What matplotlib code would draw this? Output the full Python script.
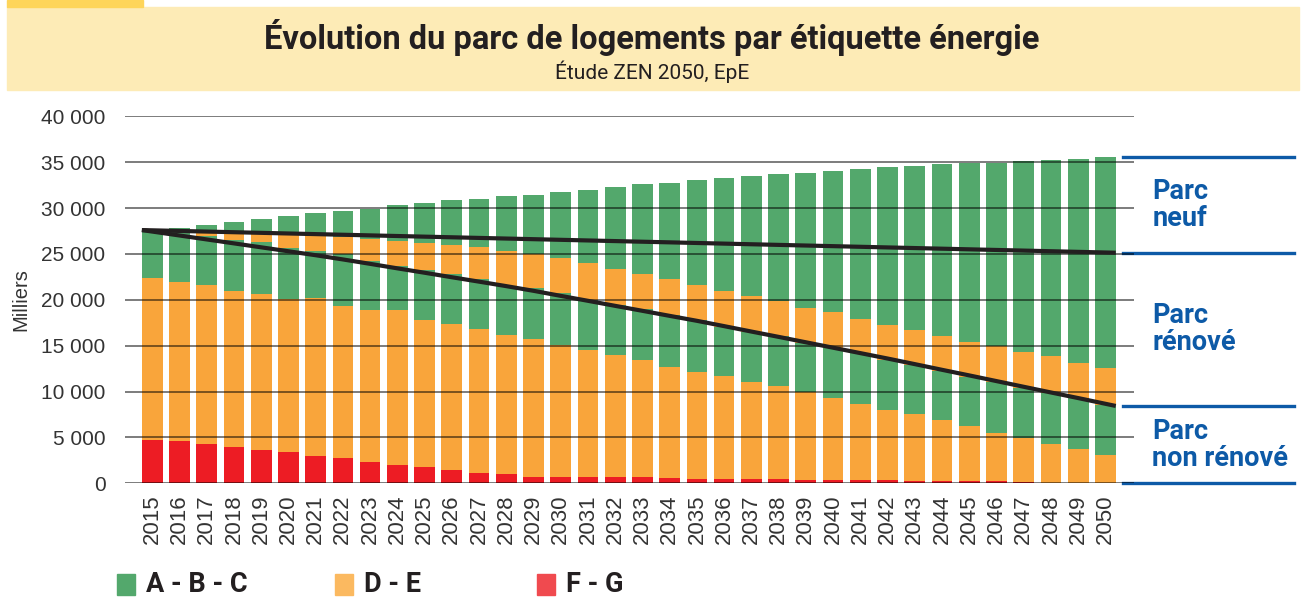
import numpy as np
import matplotlib.pyplot as plt
from matplotlib.patches import Rectangle
from matplotlib.transforms import blended_transform_factory
from matplotlib.ticker import FuncFormatter

# Données (milliers de logements)
years = list(range(2015, 2051))
fg = [4700, 4600, 4300, 3950, 3650, 3400, 3000, 2750, 2300, 2000,
      1780, 1450, 1120, 1010, 690, 690, 690, 690, 690, 580,
      470, 470, 470, 470, 360, 360, 360, 360, 250, 250,
      250, 250, 140, 0, 0, 0]
de_1 = [17700, 17350, 17300, 17050, 17000, 16700, 17250, 16600, 16600, 16900,
        16040, 15940, 15720, 15180, 15060, 14410, 13860, 13320, 12780, 12120,
        11690, 11250, 10600, 10160, 9620, 8960, 8310, 7660, 7330, 6680,
        6020, 5260, 4820, 4310, 3770, 3110]
abc_1 = [5200, 5350, 5400, 5500, 5650, 5500, 5050, 5640, 5320, 4790,
         5480, 5420, 5390, 5290, 5500, 5600, 5430, 5420, 5490, 5640,
         5640, 5360, 5460, 5420, 5280, 5390, 5500, 5420, 5320, 5350,
         5360, 5570, 5390, 5570, 5500, 5420]
de_2 = [0, 0, 300, 750, 900, 1450, 1600, 1810, 2410, 2720,
        2890, 3160, 3520, 3840, 3740, 3850, 4030, 3930, 3850, 3930,
        3810, 3900, 3900, 3840, 3870, 3980, 3750, 3830, 3830, 3800,
        3790, 3890, 3970, 4000, 3850, 4050]
abc_2 = [0, 500, 850, 1230, 1600, 2080, 2560, 2880, 3320, 3920,
         4360, 4910, 5240, 5990, 6430, 7200, 7960, 8930, 9810, 10460,
         11450, 12300, 13060, 13820, 14690, 15350, 16340, 17200, 17850, 18720,
         19530, 19980, 20810, 21360, 22230, 22980]

# traits noirs : parc non rénové (bas) et parc existant (haut)
line_low = [27600, 27010, 26580, 26150, 25720, 25290, 24860, 24400, 23920, 23430,
            22950, 22460, 21980, 21490, 20980, 20430, 19890, 19340, 18800, 18250,
            17710, 17130, 16540, 15960, 15370, 14780, 14190, 13600, 12990, 12370,
            11760, 11140, 10520, 9900, 9290, 8430]
line_high_years = [2015, 2050]
line_high = [27600, 25130]

legend_labels = ['A - B - C', 'D - E', 'F - G']

GREEN = '#53a86c'
ORANGE = '#f9a53b'
RED = '#ed1c24'
BLUE = '#0d5aa7'
TXT = '#333333'

tick_font = 'Liberation Sans'
head_font = 'Roboto'

W, H = 1308, 599
fig = plt.figure(figsize=(W / 100, H / 100), dpi=100)

# bandeau titre
fig.patches.append(Rectangle((7 / W, 1 - 90 / H), (1299 - 7) / W, (90 - 7) / H,
                             transform=fig.transFigure, color='#fdebb6', zorder=0))
fig.patches.append(Rectangle((7 / W, 1 - 7 / H), (143 - 7) / W, 7 / H,
                             transform=fig.transFigure, color='#fed55a', zorder=0))
fig.text(652 / W, 1 - 38 / H, 'Évolution du parc de logements par étiquette énergie',
         ha='center', va='center', fontsize=23.5, fontweight='bold',
         family=head_font, color='#231f20')
fig.text(652 / W, 1 - 72 / H, 'Étude ZEN 2050, EpE', ha='center', va='center',
         fontsize=15, family=head_font, color='#231f20')

ax = fig.add_axes([125 / W, 1 - 483.3 / H, (1134 - 125) / W, (483.3 - 116.3) / H])

x = np.array(years)
bw = 0.76
segments = [(fg, RED), (de_1, ORANGE), (abc_1, GREEN), (de_2, ORANGE), (abc_2, GREEN)]
bottom = np.zeros(len(years))
for vals, col in segments:
    ax.bar(x, vals, bw, bottom=bottom, color=col, linewidth=0, zorder=1)
    bottom += np.array(vals)
total = bottom

# traits noirs du bord gauche de 2015 au bord droit de 2050
xl = x.astype(float)
xl[0] -= bw / 2
xl[-1] += bw / 2
ax.plot(xl, line_low, color='#231f20', lw=3, zorder=4, solid_capstyle='butt')
xh = [line_high_years[0] - bw / 2, line_high_years[1] + bw / 2]
ax.plot(xh, line_high, color='#231f20', lw=3, zorder=4, solid_capstyle='butt')

ax.set_xlim(2014.0, 2051.05)
ax.set_ylim(0, 40000)
ax.set_yticks(range(0, 40001, 5000))
ax.yaxis.set_major_formatter(FuncFormatter(lambda v, p: f'{int(v):,}'.replace(',', ' ')))
ax.set_xticks(x)
ax.set_xticklabels([str(y) for y in years], rotation=90)
ax.tick_params(axis='y', length=0, pad=14, labelsize=15, labelcolor=TXT)
ax.tick_params(axis='x', length=0, pad=8, labelsize=16, labelcolor=TXT)
for lab in ax.get_xticklabels() + ax.get_yticklabels():
    lab.set_family(tick_font)
ax.set_axisbelow(False)
ax.yaxis.grid(True, color='black', alpha=0.6, lw=1.2)
for s in ax.spines.values():
    s.set_visible(False)
ax.set_ylabel('Milliers', fontsize=14.5, family=tick_font, color=TXT, labelpad=8)

# repères bleus à droite
tr = blended_transform_factory(ax.transAxes, ax.transData)
levels = [total[-1], line_high[-1], line_low[-1], 0]
for lv in levels:
    ax.plot([0.989, 1.159], [lv, lv], color=BLUE, lw=2.4, transform=tr, clip_on=False)
names = ['Parc\nneuf', 'Parc\nrénové', 'Parc\nnon rénové']
for i, name in enumerate(names):
    ax.text(1.018, (levels[i] + levels[i + 1]) / 2, name, transform=tr,
            ha='left', va='center', fontsize=19.5, fontweight='bold',
            family=head_font, color=BLUE, linespacing=1.0)

# légende
leg_colors = [GREEN, '#fbb960', '#f04a4f']
leg_x = [117, 335, 537]
for lab, col, lx in zip(legend_labels, leg_colors, leg_x):
    fig.patches.append(Rectangle((lx / W, 1 - 595 / H), 18 / W, 21 / H,
                                 transform=fig.transFigure, color=col))
    fig.text((lx + 29) / W, 1 - 585 / H, lab, ha='left', va='center',
             fontsize=19.5, fontweight='bold', family=head_font, color='#231f20')

fig.savefig('out.png', dpi=100)
